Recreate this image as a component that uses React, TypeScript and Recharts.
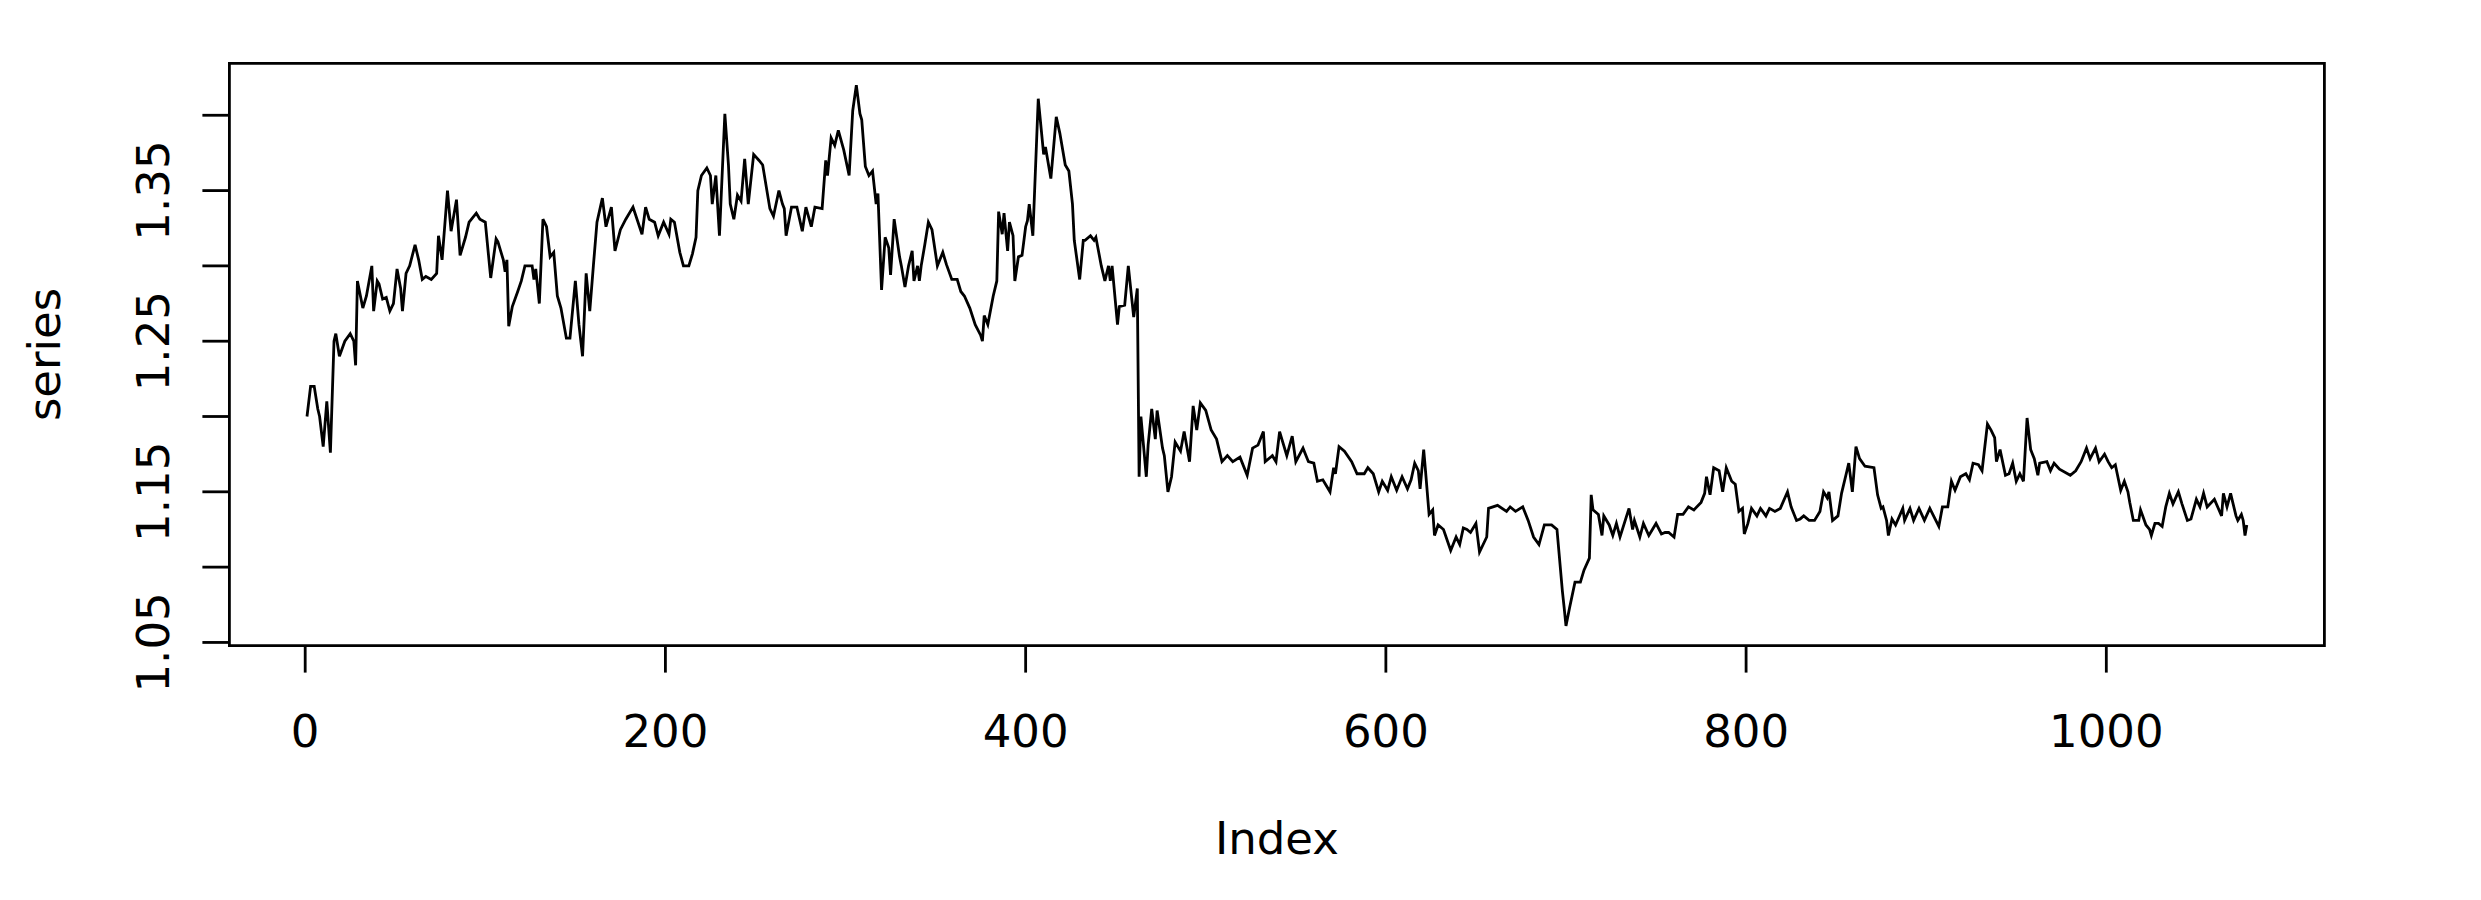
import { LineChart, Line, XAxis, YAxis, ReferenceArea } from "recharts";

// series (index, value)
const indexValues = [
  1, 3, 5, 7, 8, 10, 12, 14, 16, 17, 19, 22, 25, 27, 28, 29, 32, 34, 37, 38,
  40, 41, 43, 45, 47, 49, 51, 53, 54, 56, 58, 61, 63, 65, 67, 70, 73, 74, 76, 79,
  81, 84, 86, 89, 91, 95, 97, 100, 103, 106, 107, 110, 111, 112, 113, 115, 118, 120, 122, 126,
  127, 128, 130, 132, 134, 136, 138, 140, 142, 145, 147, 150, 152, 154, 156, 158, 160, 162, 165, 167,
  170, 172, 175, 178, 182, 187, 189, 191, 194, 196, 199, 202, 203, 205, 208, 210, 213, 215, 217, 218,
  220, 223, 225, 226, 228, 230, 233, 235, 236, 238, 240, 242, 244, 246, 249, 252, 254, 258, 260, 263,
  265, 266, 267, 270, 273, 276, 278, 281, 283, 287, 289, 290, 292, 294, 296, 299, 302, 304, 306, 308,
  309, 311, 313, 315, 317, 318, 320, 322, 324, 325, 327, 330, 331, 333, 335, 337, 338, 340, 341, 342,
  344, 346, 348, 351, 354, 356, 359, 362, 364, 366, 369, 372, 375, 376, 377, 379, 382, 384, 385, 387,
  388, 390, 391, 393, 394, 396, 398, 400, 401, 402, 404, 407, 410, 411, 414, 417, 419, 422, 424, 426,
  427, 430, 432, 433, 436, 438, 439, 442, 444, 446, 447, 448, 451, 452, 455, 457, 460, 462, 463, 464,
  467, 468, 470, 472, 473, 476, 477, 479, 481, 483, 486, 488, 491, 493, 495, 497, 500, 503, 506, 509,
  512, 515, 519, 523, 526, 529, 532, 533, 537, 539, 541, 545, 548, 550, 554, 557, 560, 562, 565, 569,
  571, 572, 574, 577, 581, 584, 588, 590, 593, 596, 598, 601, 603, 606, 609, 612, 614, 616, 618, 619,
  621, 622, 624, 626, 627, 629, 632, 636, 639, 641, 643, 645, 647, 650, 652, 656, 657, 662, 667, 669,
  672, 676, 679, 682, 685, 688, 692, 695, 698, 699, 700, 702, 705, 708, 710, 713, 714, 715, 718, 720,
  721, 724, 726, 728, 730, 735, 737, 738, 741, 743, 746, 750, 753, 755, 757, 760, 762, 765, 768, 771,
  775, 777, 778, 780, 782, 785, 787, 789, 792, 794, 796, 798, 799, 801, 803, 806, 808, 811, 813, 816,
  819, 823, 825, 828, 830, 832, 835, 838, 841, 843, 845, 846, 848, 851, 853, 856, 857, 859, 861, 863,
  866, 871, 873, 875, 876, 878, 879, 881, 883, 887, 888, 891, 893, 896, 899, 902, 907, 909, 912, 914,
  916, 919, 922, 924, 926, 929, 931, 934, 936, 938, 939, 941, 944, 946, 948, 950, 952, 954, 956, 958,
  960, 962, 963, 967, 969, 971, 974, 980, 983, 986, 989, 991, 994, 996, 999, 1001, 1003, 1005, 1008, 1010,
  1012, 1013, 1015, 1018, 1019, 1022, 1024, 1025, 1027, 1029, 1031, 1033, 1035, 1037, 1040, 1042, 1045, 1047, 1050, 1052,
  1054, 1056, 1060, 1064, 1065, 1067, 1069, 1072, 1073, 1075, 1076, 1077, 1078,
];

const seriesValues = [
  1.2, 1.22, 1.22, 1.205, 1.2, 1.18, 1.21, 1.176, 1.25, 1.255, 1.24, 1.25, 1.255, 1.25, 1.234, 1.29, 1.272, 1.28, 1.3, 1.27,
  1.29, 1.288, 1.278, 1.279, 1.27, 1.275, 1.298, 1.285, 1.27, 1.295, 1.3, 1.314, 1.304, 1.291, 1.293, 1.291, 1.295, 1.32, 1.304, 1.35,
  1.323, 1.344, 1.307, 1.319, 1.329, 1.335, 1.331, 1.329, 1.292, 1.318, 1.316, 1.304, 1.296, 1.304, 1.26, 1.273, 1.283, 1.29, 1.3, 1.3,
  1.291, 1.298, 1.275, 1.331, 1.326, 1.306, 1.309, 1.28, 1.272, 1.252, 1.252, 1.29, 1.261, 1.24, 1.295, 1.27, 1.3, 1.329, 1.345, 1.326,
  1.339, 1.31, 1.324, 1.331, 1.339, 1.321, 1.339, 1.331, 1.329, 1.32, 1.329, 1.321, 1.331, 1.329, 1.309, 1.3, 1.3, 1.308, 1.319, 1.35,
  1.36, 1.365, 1.36, 1.341, 1.36, 1.32, 1.401, 1.367, 1.341, 1.331, 1.347, 1.343, 1.371, 1.341, 1.374, 1.37, 1.367, 1.338, 1.333, 1.35,
  1.341, 1.338, 1.32, 1.339, 1.339, 1.323, 1.339, 1.326, 1.339, 1.338, 1.37, 1.36, 1.385, 1.38, 1.39, 1.377, 1.36, 1.403, 1.42, 1.401,
  1.397, 1.366, 1.36, 1.363, 1.341, 1.348, 1.284, 1.319, 1.312, 1.294, 1.331, 1.306, 1.3, 1.286, 1.3, 1.31, 1.29, 1.3, 1.29, 1.3,
  1.314, 1.329, 1.324, 1.3, 1.309, 1.301, 1.291, 1.291, 1.283, 1.28, 1.272, 1.261, 1.254, 1.25, 1.267, 1.261, 1.28, 1.29, 1.336, 1.321,
  1.335, 1.31, 1.329, 1.32, 1.29, 1.306, 1.307, 1.326, 1.33, 1.341, 1.32, 1.411, 1.374, 1.379, 1.358, 1.399, 1.388, 1.367, 1.363, 1.341,
  1.317, 1.291, 1.317, 1.317, 1.32, 1.317, 1.319, 1.3, 1.29, 1.3, 1.29, 1.3, 1.261, 1.273, 1.274, 1.3, 1.266, 1.285, 1.16, 1.2,
  1.16, 1.181, 1.205, 1.185, 1.204, 1.179, 1.174, 1.15, 1.16, 1.183, 1.177, 1.19, 1.17, 1.207, 1.191, 1.209, 1.204, 1.191, 1.185, 1.17,
  1.174, 1.17, 1.173, 1.161, 1.179, 1.181, 1.19, 1.17, 1.174, 1.17, 1.19, 1.174, 1.187, 1.17, 1.179, 1.17, 1.169, 1.157, 1.158, 1.15,
  1.166, 1.162, 1.18, 1.177, 1.17, 1.162, 1.162, 1.166, 1.162, 1.15, 1.157, 1.151, 1.16, 1.151, 1.16, 1.152, 1.158, 1.169, 1.164, 1.152,
  1.178, 1.164, 1.135, 1.138, 1.121, 1.128, 1.125, 1.111, 1.12, 1.115, 1.126, 1.125, 1.123, 1.129, 1.11, 1.12, 1.139, 1.141, 1.137, 1.14,
  1.137, 1.14, 1.131, 1.12, 1.115, 1.128, 1.128, 1.125, 1.084, 1.073, 1.061, 1.073, 1.09, 1.09, 1.098, 1.106, 1.148, 1.138, 1.135, 1.121,
  1.134, 1.128, 1.121, 1.129, 1.12, 1.139, 1.125, 1.131, 1.12, 1.129, 1.121, 1.129, 1.122, 1.123, 1.123, 1.12, 1.135, 1.135, 1.14, 1.138,
  1.143, 1.149, 1.16, 1.148, 1.166, 1.164, 1.15, 1.166, 1.157, 1.155, 1.137, 1.139, 1.122, 1.129, 1.139, 1.134, 1.139, 1.134, 1.139, 1.137,
  1.139, 1.15, 1.14, 1.131, 1.132, 1.134, 1.131, 1.131, 1.137, 1.15, 1.146, 1.15, 1.131, 1.134, 1.149, 1.164, 1.169, 1.15, 1.18, 1.172,
  1.167, 1.166, 1.148, 1.139, 1.14, 1.131, 1.121, 1.132, 1.128, 1.139, 1.131, 1.139, 1.131, 1.139, 1.131, 1.139, 1.127, 1.14, 1.14, 1.157,
  1.151, 1.16, 1.162, 1.158, 1.169, 1.168, 1.164, 1.195, 1.191, 1.186, 1.17, 1.178, 1.161, 1.162, 1.169, 1.157, 1.162, 1.157, 1.199, 1.178,
  1.172, 1.161, 1.169, 1.17, 1.164, 1.169, 1.165, 1.161, 1.164, 1.17, 1.179, 1.172, 1.179, 1.17, 1.175, 1.17, 1.166, 1.168, 1.151, 1.157,
  1.15, 1.143, 1.131, 1.131, 1.138, 1.128, 1.125, 1.121, 1.129, 1.129, 1.127, 1.14, 1.149, 1.142, 1.15, 1.142, 1.131, 1.132, 1.145, 1.14,
  1.149, 1.14, 1.145, 1.134, 1.149, 1.14, 1.149, 1.134, 1.131, 1.135, 1.131, 1.121, 1.128,
];

const xTicks = [0, 200, 400, 600, 800, 1000];
const yTicks = [1.05, 1.1, 1.15, 1.2, 1.25, 1.3, 1.35, 1.4];
const yLabelled = [1.05, 1.15, 1.25, 1.35];

const xDomain: [number, number] = [-42.08, 1121.08];
const yDomain: [number, number] = [1.0479, 1.4345];

const data = indexValues.map((index, i) => ({ index, series: seriesValues[i] }));

const FONT = "DejaVu Sans";
const FONT_SIZE = 45;
const LWD = 2.8;

const XTick = ({ x, y, payload }: any) => (
  <text x={x} y={y + 74} textAnchor="middle" fontSize={FONT_SIZE} fontFamily={FONT} fill="#000">
    {payload.value}
  </text>
);

const YTick = ({ x, y, payload }: any) => {
  const v = payload.value;
  if (!yLabelled.some((l) => Math.abs(l - v) < 1e-9)) return null;
  return (
    <text
      transform={`translate(${x - 33}, ${y}) rotate(-90)`}
      textAnchor="middle"
      fontSize={FONT_SIZE}
      fontFamily={FONT}
      fill="#000"
    >
      {v.toFixed(2)}
    </text>
  );
};

const App = () => {
  return (
    <div style={{ position: "absolute", left: 0, top: 0, width: 2481, height: 900, background: "#fff" }}>
      <LineChart
        width={2481}
        height={900}
        data={data}
        margin={{ top: 63.3, right: 156.6, bottom: 194.4, left: 169.4 }}
      >
        <XAxis
          type="number"
          dataKey="index"
          domain={xDomain}
          ticks={xTicks}
          interval={0}
          allowDataOverflow
          height={60}
          axisLine={false}
          tickSize={27}
          tickMargin={0}
          tickLine={{ stroke: "#000", strokeWidth: LWD }}
          tick={<XTick />}
          label={{
            content: ({ viewBox }: any) => (
              <text
                x={viewBox.x + viewBox.width / 2}
                y={viewBox.y + 208}
                textAnchor="middle"
                fontSize={FONT_SIZE}
                fontFamily={FONT}
                fill="#000"
              >
                Index
              </text>
            ),
          }}
        />
        <YAxis
          type="number"
          domain={yDomain}
          ticks={yTicks}
          interval={0}
          allowDataOverflow
          width={60}
          axisLine={false}
          tickSize={27}
          tickMargin={0}
          tickLine={{ stroke: "#000", strokeWidth: LWD }}
          tick={<YTick />}
          label={{
            content: ({ viewBox }: any) => (
              <text
                transform={`translate(${viewBox.x + viewBox.width - 169.4}, ${viewBox.y + viewBox.height / 2}) rotate(-90)`}
                textAnchor="middle"
                fontSize={FONT_SIZE}
                fontFamily={FONT}
                fill="#000"
              >
                series
              </text>
            ),
          }}
        />
        <ReferenceArea
          x1={xDomain[0]}
          x2={xDomain[1]}
          y1={yDomain[0]}
          y2={yDomain[1]}
          fill="none"
          stroke="#000"
          strokeWidth={LWD}
          ifOverflow="visible"
        />
        <Line
          type="linear"
          dataKey="series"
          stroke="#000"
          strokeWidth={LWD}
          dot={false}
          isAnimationActive={false}
        />
      </LineChart>
    </div>
  );
};

export default App;
